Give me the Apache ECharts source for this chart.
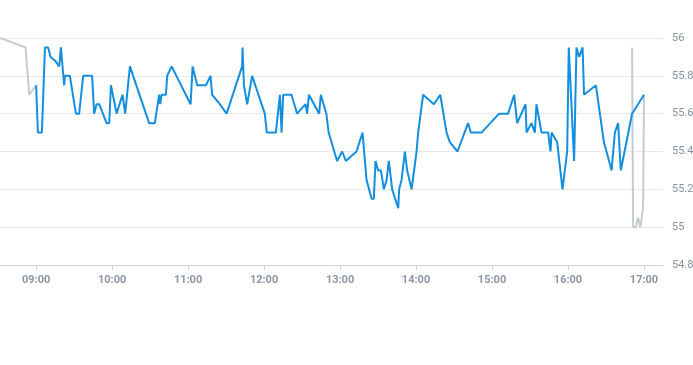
<!DOCTYPE html>
<html>
<head>
<meta charset="utf-8">
<script src="https://cdn.jsdelivr.net/npm/echarts@6/dist/echarts.min.js"></script>
<style>
html,body{margin:0;padding:0;background:#fff;}
#chart{width:693px;height:365px;}
</style>
</head>
<body>
<div id="chart"></div>
<script>
const DAY = '2024-01-02 ';
const yTicks = [54.8, 55, 55.2, 55.4, 55.6, 55.8, 56];

const mainTimes = ['09:00:00','09:01:25','09:04:35','09:07:00','09:09:30','09:11:30','09:15:00','09:18:15','09:19:35','09:22:10',
'09:22:45','09:26:40','09:31:25','09:34:00','09:37:10','09:44:15','09:45:50','09:47:45','09:49:50','09:55:40',
'09:57:45','09:59:05','10:00:25','10:03:35','10:08:15','10:10:20','10:14:05','10:29:15','10:33:45','10:37:10',
'10:38:00','10:39:05','10:42:30','10:43:30','10:47:00','11:02:00','11:03:35','11:07:10','11:14:05','11:17:45',
'11:19:00','11:25:05','11:30:25','11:42:40','11:43:00','11:44:05','11:45:05','11:46:40','11:50:35','12:00:35',
'12:02:10','12:09:20','12:12:30','12:13:50','12:15:05','12:21:40','12:26:05','12:32:45','12:34:00','12:35:25',
'12:43:30','12:44:50','12:49:10','12:50:30','12:51:00','12:57:40','13:01:40','13:04:35','13:13:00','13:17:45',
'13:20:55','13:22:10','13:24:55','13:26:40','13:28:00','13:30:05','13:32:15','13:34:35','13:36:45','13:38:30',
'13:41:10','13:45:55','13:46:40','13:48:35','13:51:10','13:53:00','13:56:30','14:00:25','14:01:40','14:05:35',
'14:14:05','14:19:10','14:24:05','14:26:40','14:32:45','14:41:05','14:43:15','14:51:40','15:05:35','15:12:40',
'15:17:30','15:19:50','15:26:30','15:27:15','15:31:10','15:33:50','15:35:05','15:39:05','15:44:20','15:46:10',
'15:47:00','15:48:15','15:51:25','15:55:40','15:59:20','16:00:35','16:04:50','16:06:40','16:08:50','16:10:05',
'16:11:30','16:12:40','16:22:00','16:28:20','16:34:25','16:37:00','16:39:35','16:41:40','16:46:10','16:47:30',
'16:50:35','17:00:00'];
const mainValues = [55.75,55.5,55.5,55.95,55.95,55.9,55.88,55.85,55.95,55.75,
55.8,55.8,55.6,55.6,55.8,55.8,55.6,55.65,55.65,55.55,
55.55,55.75,55.75,55.6,55.7,55.6,55.85,55.55,55.55,55.7,
55.65,55.7,55.7,55.8,55.85,55.65,55.85,55.75,55.75,55.8,
55.7,55.65,55.6,55.85,55.95,55.75,55.75,55.65,55.8,55.6,
55.5,55.5,55.7,55.5,55.7,55.7,55.6,55.65,55.6,55.7,
55.6,55.7,55.6,55.6,55.5,55.35,55.4,55.35,55.4,55.5,
55.25,55.25,55.15,55.15,55.35,55.3,55.3,55.2,55.25,55.35,
55.2,55.1,55.2,55.25,55.4,55.3,55.2,55.4,55.5,55.7,
55.65,55.7,55.5,55.45,55.4,55.55,55.5,55.5,55.6,55.6,
55.7,55.55,55.65,55.5,55.55,55.5,55.65,55.5,55.5,55.4,
55.5,55.5,55.45,55.2,55.4,55.95,55.35,55.95,55.9,55.9,
55.95,55.7,55.75,55.45,55.3,55.5,55.55,55.3,55.45,55.45,
55.6,55.7];

const preTimes = ['08:31:30','08:51:40','08:54:35','09:00:00'];
const preValues = [56.0,55.95,55.7,55.75];
const postTimes = ['16:50:35','16:51:25','16:53:30','16:55:20','16:57:10','16:59:15','17:00:00'];
const postValues = [55.95,55.0,55.0,55.05,55.0,55.1,55.7];

const axisStart = '08:31:30';
const axisEnd = '17:15:00';

function pairs(times, vals){ return times.map((t,i)=>[DAY + t, vals[i]]); }
const greyData = pairs(preTimes, preValues).concat([[DAY + '12:00:00', null]]).concat(pairs(postTimes, postValues));

const chart = echarts.init(document.getElementById('chart'), null, {renderer:'canvas'});
chart.setOption({
  animation: false,
  grid: {left: 0, right: 30, top: 38, bottom: 100, containLabel: false, outerBoundsMode: 'none'},
  xAxis: {
    type: 'time',
    min: DAY + axisStart,
    max: DAY + axisEnd,
    minInterval: 3600000,
    maxInterval: 3600000,
    axisLine: {show: true, lineStyle: {color: '#ccd3da', width: 1}},
    axisTick: {show: true, length: 5, lineStyle: {color: '#ccd3da'}},
    splitLine: {show: false},
    axisLabel: {
      color: '#8a96a3', fontSize: 11, fontWeight: 'bold', fontFamily: 'Roboto, sans-serif', margin: 10,
      showMinLabel: false, showMaxLabel: false,
      formatter: function(v){ const d = new Date(v); return String(d.getHours()).padStart(2,'0') + ':' + String(d.getMinutes()).padStart(2,'0'); }
    }
  },
  yAxis: {
    type: 'value',
    position: 'right',
    min: yTicks[0], max: yTicks[yTicks.length-1], interval: 0.2,
    axisLine: {show: false},
    axisTick: {show: false},
    splitLine: {show: true, lineStyle: {color: '#e6e9ed', width: 1}},
    axisLabel: {color: '#86919d', fontSize: 11, fontFamily: 'Roboto, sans-serif', margin: 9,
      formatter: function(v){ return String(Math.round(v*10)/10); }}
  },
  series: [
    {type: 'line', data: greyData, showSymbol: false, connectNulls: false,
     lineStyle: {color: '#c3cbd3', width: 2}, z: 1},
    {type: 'line', data: pairs(mainTimes, mainValues), showSymbol: false,
     lineStyle: {color: '#148fe0', width: 2}, z: 2}
  ]
});
</script>
</body>
</html>
